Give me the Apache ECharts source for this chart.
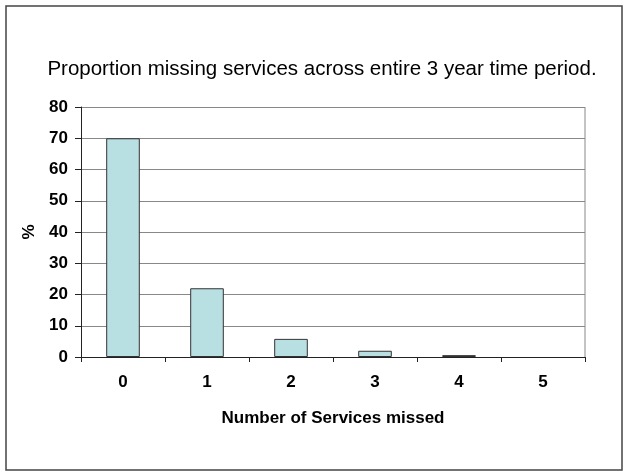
<!DOCTYPE html>
<html><head><meta charset="utf-8">
<script src="https://cdn.jsdelivr.net/npm/echarts@6/dist/echarts.min.js"></script>
<style>html,body{margin:0;padding:0;background:#fff}#c{width:629px;height:476px}</style>
</head><body><div id="c"></div>
<script>
const categories = ['0','1','2','3','4','5'];
const values = [70, 22, 5.8, 2, 0.6, 0];
const yTicks = [0,10,20,30,40,50,60,70,80];
const titleText = 'Proportion missing services across entire 3 year time period.';
const xName = 'Number of Services missed';
const yName = '%';

const chart = echarts.init(document.getElementById('c'));
chart.setOption({
  animation: false,
  backgroundColor: '#fff',
  title: {text: titleText, left: 317, top: 54, textAlign: 'center',
    textStyle: {fontFamily: 'Liberation Sans', fontSize: 20.5, fontWeight: 'normal', color: '#000'}},
  graphic: [
    {type: 'rect', shape: {x: 6, y: 6, width: 616, height: 464},
     style: {fill: 'none', stroke: '#444', lineWidth: 1.5}},
    {type: 'line', shape: {x1: 585, y1: 107, x2: 585, y2: 357}, style: {stroke: '#888', lineWidth: 1}}
  ],
  grid: {left: 81, right: 44, top: 107, bottom: 119},
  xAxis: {type: 'category', data: categories,
    name: xName, nameLocation: 'middle', nameGap: 53,
    nameTextStyle: {fontFamily: 'Liberation Sans', fontSize: 17, fontWeight: 'bold', color: '#000'},
    axisLine: {lineStyle: {color: '#222', width: 1}},
    axisTick: {show: true, length: 5, lineStyle: {color: '#222'}},
    axisLabel: {fontFamily: 'Liberation Sans', fontSize: 17, fontWeight: 'bold', color: '#000', margin: 17}},
  yAxis: {type: 'value', min: 0, max: 80, interval: 10,
    name: yName, nameLocation: 'middle', nameGap: 41, nameRotate: 90,
    nameTextStyle: {fontFamily: 'Liberation Sans', fontSize: 17, fontWeight: 'bold', color: '#000'},
    axisLine: {show: true, lineStyle: {color: '#222'}},
    axisTick: {show: true, length: 6, lineStyle: {color: '#222'}},
    splitLine: {lineStyle: {color: '#888', width: 1}},
    axisLabel: {fontFamily: 'Liberation Sans', fontSize: 17, fontWeight: 'bold', color: '#000', margin: 13,
      formatter: v => yTicks.includes(v) ? String(v) : ''}},
  series: [{type: 'bar', barWidth: '40%',
    data: values.map(v => v === 0 ? {value: v, itemStyle: {borderWidth: 0}} : v),
    itemStyle: {color: '#b8dfe2', borderColor: '#333', borderWidth: 1}}]
});
</script></body></html>
